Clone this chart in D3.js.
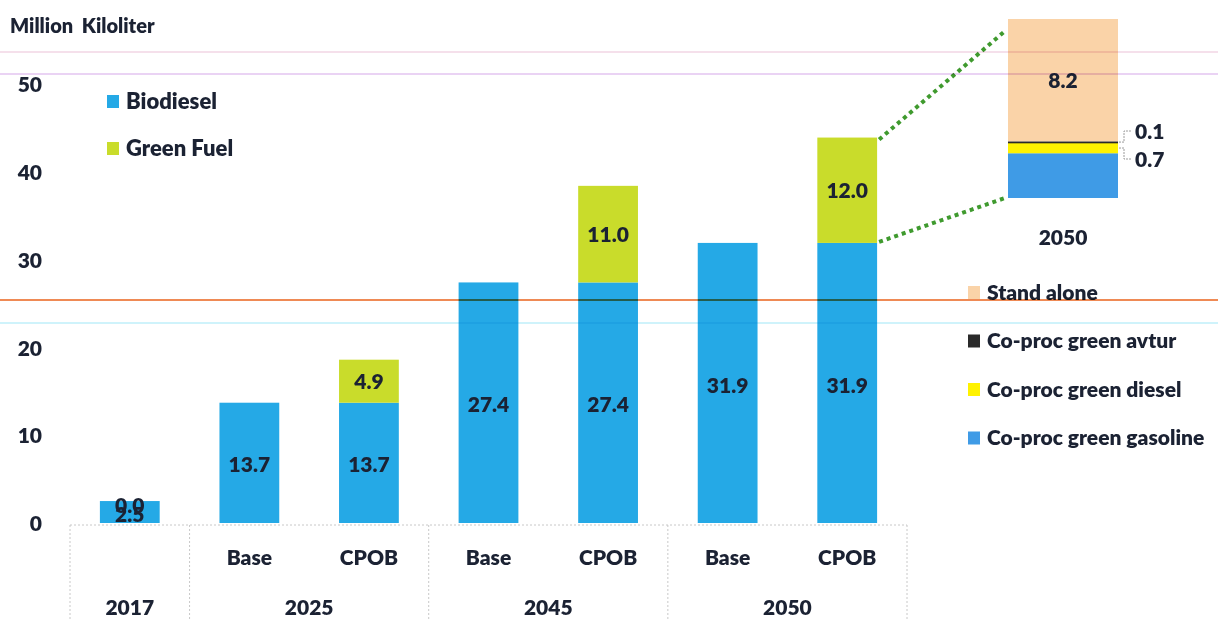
<!DOCTYPE html>
<html>
<head>
<meta charset="utf-8">
<script src="https://cdn.jsdelivr.net/npm/d3@7"></script>
<style>
  html, body { margin: 0; padding: 0; background: #ffffff; }
  svg { display: block; font-family: Lato, "Open Sans", sans-serif; }
</style>
</head>
<body>
<svg id="chart" width="1218" height="619"></svg>
<script>
// ---------- data ----------
const barKeys    = ["2017", "2025 Base", "2025 CPOB", "2045 Base", "2045 CPOB", "2050 Base", "2050 CPOB"];
const subLabels  = ["", "Base", "CPOB", "Base", "CPOB", "Base", "CPOB"];
const groupLabels = ["2017", "2025", "2045", "2050"];
const groupFirst = ["2017", "2025 Base", "2045 Base", "2050 Base"];
const groupLast  = ["2017", "2025 CPOB", "2045 CPOB", "2050 CPOB"];
const biodiesel  = [2.5, 13.7, 13.7, 27.4, 27.4, 31.9, 31.9];
const greenFuel  = [0.0, null, 4.9, null, 11.0, null, 12.0];
const yTicks     = [0, 10, 20, 30, 40, 50];
const mainSeries = ["Biodiesel", "Green Fuel"];
const mainColors = ["#25a9e6", "#c9dc2b"];

const insetCategory = "2050";
const insetSeries = ["Co-proc green gasoline", "Co-proc green diesel", "Co-proc green avtur", "Stand alone"];
const insetValues = [3.0, 0.7, 0.1, 8.2];
const insetColors = ["#3f9be6", "#fff200", "#2a2a2a", "#fad3a8"];
const insetLabels = [null, "0.7", "0.1", "8.2"];
const legendOrder = ["Stand alone", "Co-proc green avtur", "Co-proc green diesel", "Co-proc green gasoline"];

const unitTitle = "Million Kiloliter";
const textColor = "#1b2233";
const W = 800; // heavy weight for Calibri-bold look

// ---------- setup ----------
const svg = d3.select("#chart");

// scan artefact lines of the reference picture (decorative)
const artefacts = [
  {y: 52, c: "#f2d6e4", w: 1.5},
  {y: 74, c: "#e3c4f0", w: 1.5},
  {y: 300, c: "#ef8a55", w: 2},
  {y: 323, c: "#bfeffa", w: 1.5}
];

const x = d3.scaleBand().domain(barKeys).range([70, 907]).paddingInner(0.5).paddingOuter(0.25);
const y = d3.scaleLinear().domain([0, 50]).range([523, 84]);

// title
svg.append("text").attr("x", 10).attr("y", 33)
  .attr("font-size", 20).attr("font-weight", W).attr("fill", textColor)
  .attr("word-spacing", 4)
  .text(unitTitle);

// y axis (labels only)
const yAxis = d3.axisLeft(y).tickValues(yTicks).tickSize(0).tickPadding(0);
const yg = svg.append("g").attr("transform", "translate(42,1)").call(yAxis);
yg.select(".domain").remove();
yg.selectAll("text").attr("font-size", 21).attr("font-weight", W)
  .attr("fill", textColor).attr("font-family", "Lato, sans-serif");

// category table lines
const tableLeft = 70, tableRight = 907;
const boundaries = [tableLeft];
groupLast.forEach((k, i) => {
  if (i < groupLast.length - 1) boundaries.push((x(k) + x.bandwidth() + x(groupFirst[i + 1])) / 2);
});
boundaries.push(tableRight);
const table = svg.append("g").attr("stroke", "#c8c8c8").attr("stroke-width", 1).attr("stroke-dasharray", "2,2");
table.append("line").attr("x1", tableLeft).attr("x2", tableRight).attr("y1", y(0) + 2).attr("y2", y(0) + 2);
boundaries.forEach(bx => {
  table.append("line").attr("x1", bx).attr("x2", bx).attr("y1", y(0) + 2).attr("y2", 619);
});

// bars
const stacks = barKeys.map((k, i) => ({key: k, b: biodiesel[i], g: greenFuel[i]}));
const barG = svg.append("g");
barG.selectAll("rect.bio").data(stacks).join("rect")
  .attr("x", d => x(d.key)).attr("width", x.bandwidth())
  .attr("y", d => y(d.b)).attr("height", d => y(0) - y(d.b))
  .attr("fill", mainColors[0]);
barG.selectAll("rect.green").data(stacks.filter(d => d.g)).join("rect")
  .attr("x", d => x(d.key)).attr("width", x.bandwidth())
  .attr("y", d => y(d.b + d.g)).attr("height", d => y(d.b) - y(d.b + d.g))
  .attr("fill", mainColors[1]);

// value labels
const lab = svg.append("g").attr("font-size", 21).attr("font-weight", W)
  .attr("fill", textColor).attr("text-anchor", "middle");
stacks.forEach(d => {
  lab.append("text").attr("x", x(d.key) + x.bandwidth() / 2)
    .attr("y", (y(0) + y(d.b)) / 2 + 2).attr("dy", "0.36em").text(d.b.toFixed(1));
  if (d.g !== null) {
    const gy = d.g === 0 ? y(d.b) + 4 : (y(d.b) + y(d.b + d.g)) / 2;
    lab.append("text").attr("x", x(d.key) + x.bandwidth() / 2)
      .attr("y", gy).attr("dy", "0.36em").text(d.g.toFixed(1));
  }
});

// category labels
const cat = svg.append("g").attr("font-size", 21).attr("font-weight", W)
  .attr("fill", textColor).attr("text-anchor", "middle");
barKeys.forEach((k, i) => {
  if (subLabels[i]) cat.append("text").attr("x", x(k) + x.bandwidth() / 2).attr("y", 557)
    .attr("dy", "0.36em").text(subLabels[i]);
});
groupLabels.forEach((g, i) => {
  const cx = (boundaries[i] + boundaries[i + 1]) / 2;
  cat.append("text").attr("x", cx).attr("y", 607).attr("dy", "0.36em").text(g);
});

// left legend
const lg = svg.append("g");
mainSeries.forEach((s, i) => {
  const cy = 101 + i * 47;
  lg.append("rect").attr("x", 107).attr("y", cy - 6).attr("width", 12).attr("height", 13).attr("fill", mainColors[i]);
  lg.append("text").attr("x", 126).attr("y", cy).attr("dy", "0.36em")
    .attr("font-size", 22).attr("font-weight", W).attr("fill", textColor).text(s);
});

// inset stacked bar
const xi = d3.scaleBand().domain([insetCategory]).range([1008, 1118]);
const yi = d3.scaleLinear().domain([0, d3.sum(insetValues)]).range([198, 19]);
let cum = 0;
const insetStack = insetValues.map((v, i) => { const s = {i, y0: cum, y1: cum + v, v}; cum += v; return s; });
const ig = svg.append("g");
ig.selectAll("rect").data(insetStack).join("rect")
  .attr("x", xi(insetCategory)).attr("width", xi.bandwidth())
  .attr("y", d => yi(d.y1)).attr("height", d => Math.max(2, yi(d.y0) - yi(d.y1)))
  .attr("fill", d => insetColors[d.i]);
// labels
const big = insetStack[3];
ig.append("text").attr("x", xi(insetCategory) + xi.bandwidth() / 2).attr("y", (yi(big.y0) + yi(big.y1)) / 2)
  .attr("dy", "0.36em").attr("text-anchor", "middle").attr("font-size", 21).attr("font-weight", W)
  .attr("fill", textColor).text(insetLabels[3]);
const side = [{s: insetStack[2], ty: 131}, {s: insetStack[1], ty: 159}];
side.forEach(o => {
  const segMid = (yi(o.s.y0) + yi(o.s.y1)) / 2;
  const ex = xi(insetCategory) + xi.bandwidth();
  ig.append("path").attr("d", `M${ex + 1},${segMid} L${ex + 6},${segMid} L${ex + 6},${o.ty} L${ex + 13},${o.ty}`)
    .attr("fill", "none").attr("stroke", "#9a9a9a").attr("stroke-width", 1).attr("stroke-dasharray", "2,1");
  ig.append("text").attr("x", ex + 17).attr("y", o.ty).attr("dy", "0.36em")
    .attr("font-size", 21).attr("font-weight", W).attr("fill", textColor).text(insetLabels[o.s.i]);
});
ig.append("text").attr("x", xi(insetCategory) + xi.bandwidth() / 2).attr("y", 237).attr("dy", "0.36em")
  .attr("text-anchor", "middle").attr("font-size", 21).attr("font-weight", W).attr("fill", textColor)
  .text(insetCategory);

// dotted connectors from 2050 CPOB green segment to inset
const last = stacks[stacks.length - 1];
const bx = x(last.key) + x.bandwidth();
const conn = svg.append("g").attr("stroke", "#3f9a2e").attr("stroke-width", 4).attr("stroke-dasharray", "4,4").attr("fill", "none");
conn.append("line").attr("x1", bx + 2).attr("y1", y(last.b + last.g) + 2).attr("x2", xi(insetCategory) - 3).attr("y2", yi(d3.sum(insetValues)) + 12);
conn.append("line").attr("x1", bx + 2).attr("y1", y(last.b) - 1).attr("x2", xi(insetCategory) - 3).attr("y2", yi(0));

// right legend
const rg = svg.append("g");
legendOrder.forEach((s, i) => {
  const cy = 292 + i * 48.5;
  const ci = insetSeries.indexOf(s);
  rg.append("rect").attr("x", 968).attr("y", cy - 6).attr("width", 12).attr("height", 13).attr("fill", insetColors[ci]);
  rg.append("text").attr("x", 987).attr("y", cy).attr("dy", "0.36em")
    .attr("font-size", 21).attr("font-weight", W).attr("fill", textColor).text(s);
});

// scan artefact lines drawn on top with multiply blend
const art = svg.append("g");
artefacts.forEach(a => {
  art.append("line").attr("x1", 0).attr("x2", 1218).attr("y1", a.y).attr("y2", a.y)
    .attr("stroke", a.c).attr("stroke-width", a.w).style("mix-blend-mode", "multiply");
});
</script>
</body>
</html>
